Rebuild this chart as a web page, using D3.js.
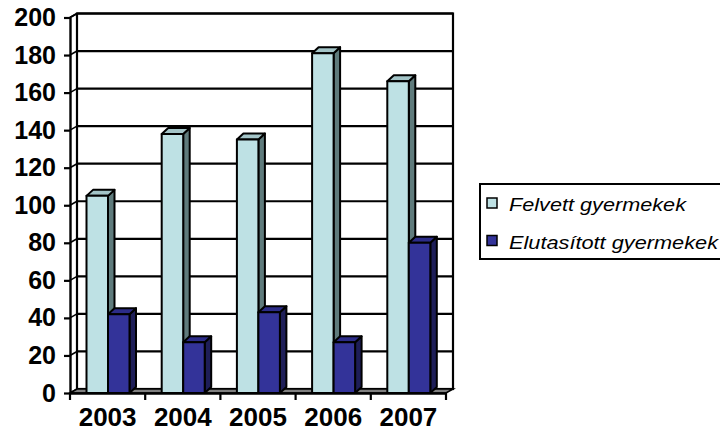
<!DOCTYPE html>
<html><head><meta charset="utf-8">
<script src="https://cdn.jsdelivr.net/npm/d3@7"></script>
<style>html,body{margin:0;padding:0;background:#fff;}svg{display:block;}</style>
</head><body>
<svg id="chart" width="720" height="434"></svg>
<script>
const categories = ["2003", "2004", "2005", "2006", "2007"];
const felvett = [105, 138, 135, 181, 166];
const elutasitott = [42, 27, 43, 27, 80];
const yTickValues = [0, 20, 40, 60, 80, 100, 120, 140, 160, 180, 200];
const seriesNames = ["Felvett gyermekek", "Elutasított gyermekek"];
const seriesFront = ["#BEE1E4", "#333399"];
const seriesTop = ["#A3C4C7", "#2C2C88"];
const seriesSide = ["#5F7B7C", "#1E1E58"];

const svg = d3.select("#chart");
const x0 = 70, x1 = 446, yTop = 17.5, yBot = 393;
const wdx = 7, wdy = -4;   // wall depth
const bdx = 6.5, bdy = -6; // bar depth

const x = d3.scaleBand().domain(categories).range([x0, x1]).paddingInner(0).paddingOuter(0);
const xs = d3.scaleBand().domain(seriesNames).range([16.5, 59.5]).padding(0);
const y = d3.scaleLinear().domain([0, 200]).range([yBot, yTop]);

// back wall
svg.append("rect").attr("x", x0 + wdx).attr("y", yTop + wdy).attr("width", x1 - x0).attr("height", yBot - yTop)
  .attr("fill", "#fff").attr("stroke", "#000").attr("stroke-width", 2.2);

// gridlines
const grid = svg.append("g");
yTickValues.forEach(v => {
  const yy = y(v);
  if (v > 0) {
    grid.append("line").attr("x1", x0 + wdx).attr("x2", x1 + wdx).attr("y1", yy + wdy).attr("y2", yy + wdy)
      .attr("stroke", "#000").attr("stroke-width", 2.2);
  }
  grid.append("line").attr("x1", x0).attr("x2", x0 + wdx).attr("y1", yy).attr("y2", yy + wdy)
    .attr("stroke", "#000").attr("stroke-width", 1.6);
});

// floor
svg.append("path")
  .attr("d", `M${x0},${yBot}L${x1},${yBot}L${x1 + wdx},${yBot + wdy}L${x0 + wdx},${yBot + wdy}Z`)
  .attr("fill", "#808080").attr("stroke", "#000").attr("stroke-width", 1.6);

// side wall top edge
svg.append("line").attr("x1", x0).attr("x2", x0 + wdx).attr("y1", yTop).attr("y2", yTop + wdy)
  .attr("stroke", "#000").attr("stroke-width", 2);

// bars
const barsG = svg.append("g");
categories.forEach((c, i) => {
  [felvett[i], elutasitott[i]].forEach((v, s) => {
    const bx = x(c) + xs(seriesNames[s]);
    const bw = xs.bandwidth();
    const by = y(v);
    const g = barsG.append("g").attr("stroke", "#000").attr("stroke-width", 2).attr("stroke-linejoin", "round");
    g.append("path").attr("d", `M${bx + bw},${by}L${bx + bw + bdx},${by + bdy}L${bx + bw + bdx},${yBot + bdy}L${bx + bw},${yBot}Z`)
      .attr("fill", seriesSide[s]);
    g.append("path").attr("d", `M${bx},${by}L${bx + bdx},${by + bdy}L${bx + bw + bdx},${by + bdy}L${bx + bw},${by}Z`)
      .attr("fill", seriesTop[s]);
    g.append("rect").attr("x", bx).attr("y", by).attr("width", bw).attr("height", yBot - by)
      .attr("fill", seriesFront[s]);
  });
});

// y axis
const yAxis = d3.axisLeft(y).tickValues(yTickValues).tickSize(6).tickPadding(8).tickSizeOuter(0);
const ya = svg.append("g").attr("transform", `translate(${x0},0)`).call(yAxis);
ya.select(".domain").attr("stroke-width", 2.4);
ya.selectAll(".tick line").attr("stroke-width", 2.2);
ya.selectAll("text").attr("font-family", "Liberation Sans, Arial, sans-serif").attr("font-size", 25)
  .attr("font-weight", "bold").attr("fill", "#000");

// x axis
const xAxis = d3.axisBottom(x).tickSize(0).tickPadding(15).tickSizeOuter(0);
const xa = svg.append("g").attr("transform", `translate(0,${yBot})`).call(xAxis);
xa.select(".domain").attr("stroke-width", 2.4);
xa.selectAll("text").attr("font-family", "Liberation Sans, Arial, sans-serif").attr("font-size", 26)
  .attr("font-weight", "bold").attr("fill", "#000");
const boundaries = categories.map(c => x(c)).concat([x1]);
xa.selectAll(".bnd").data(boundaries).enter().append("line").attr("class", "bnd")
  .attr("x1", d => d).attr("x2", d => d).attr("y1", 0).attr("y2", 7).attr("stroke", "#000").attr("stroke-width", 2.2);

// legend
const leg = svg.append("g");
leg.append("rect").attr("x", 480).attr("y", 184).attr("width", 260).attr("height", 75)
  .attr("fill", "#fff").attr("stroke", "#000").attr("stroke-width", 2);
const legW = [177, 209];
seriesNames.forEach((n, i) => {
  const yy = 198 + i * 37.5;
  leg.append("rect").attr("x", 487).attr("y", yy).attr("width", 10).attr("height", 10)
    .attr("fill", seriesFront[i]).attr("stroke", "#000").attr("stroke-width", 1.5);
  leg.append("text").attr("x", 509).attr("y", yy + 13).text(n)
    .attr("font-family", "Liberation Sans, Arial, sans-serif").attr("font-size", 18).attr("font-style", "italic")
    .attr("textLength", legW[i]).attr("lengthAdjust", "spacingAndGlyphs").attr("fill", "#000");
});
</script>
</body></html>
